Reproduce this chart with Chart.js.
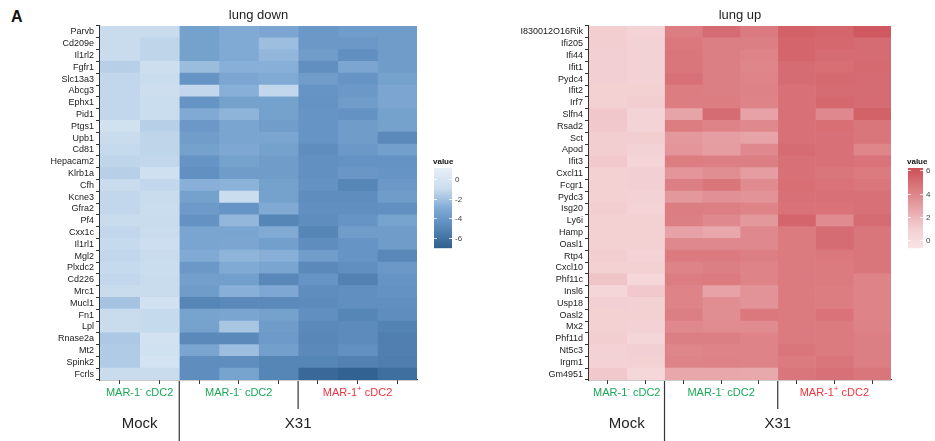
<!DOCTYPE html>
<html>
<head>
<meta charset="utf-8">
<script src="https://cdn.jsdelivr.net/npm/chart.js@4.4.1/dist/chart.umd.min.js"></script>
<style>
  body { margin: 0; background: #fff; width: 935px; height: 441px; overflow: hidden; position: relative; font-family: "Liberation Sans", Arial, sans-serif; }
  .panel { position: absolute; top: 0; height: 441px; }
  #downBox { left: 0; width: 470px; }
  #upBox { left: 470px; width: 465px; }
  #tag { position: absolute; left: 11px; top: 8px; font-weight: bold; font-size: 16px; color: #111; }
</style>
</head>
<body>
<div id="tag">A</div>
<div class="panel" id="downBox"><canvas id="downChart"></canvas></div>
<div class="panel" id="upBox"><canvas id="upChart"></canvas></div>
<script>
// genes (rows, top to bottom)
const downGenes = ['Parvb', 'Cd209e', 'Il1rl2', 'Fgfr1', 'Slc13a3', 'Abcg3', 'Ephx1', 'Pid1', 'Ptgs1', 'Upb1',
  'Cd81', 'Hepacam2', 'Klrb1a', 'Cfh', 'Kcne3', 'Gfra2', 'Pf4', 'Cxx1c', 'Il1rl1', 'Mgl2',
  'Plxdc2', 'Cd226', 'Mrc1', 'Mucl1', 'Fn1', 'Lpl', 'Rnase2a', 'Mt2', 'Spink2', 'Fcrls'];
const upGenes = ['I830012O16Rik', 'Ifi205', 'Ifi44', 'Ifit1', 'Pydc4', 'Ifit2', 'Irf7', 'Slfn4', 'Rsad2', 'Sct',
  'Apod', 'Ifit3', 'Cxcl11', 'Fcgr1', 'Pydc3', 'Isg20', 'Ly6i', 'Hamp', 'Oasl1', 'Rtp4',
  'Cxcl10', 'Phf11c', 'Insl6', 'Usp18', 'Oasl2', 'Mx2', 'Phf11d', 'Nt5c3', 'Irgm1', 'Gm4951'];

// lung down: one array per sample column (Mock x2, X31 MAR-1- x3, X31 MAR-1+ x3)
const downMock1 = [-1.0, -1.0, -1.0, -1.5, -1.2, -1.2, -1.2, -1.2, -0.5, -1.0, -1.1, -1.3, -1.5, -1.0, -1.2, -1.2, -1.0, -1.2, -1.1, -1.2, -1.1, -1.2, -1.0, -2.0, -1.0, -1.0, -1.8, -1.7, -1.7, -1.0];
const downMock2 = [-1.0, -1.3, -1.3, -0.7, -0.9, -0.7, -0.9, -0.9, -1.5, -1.3, -1.3, -1.2, -0.6, -1.2, -1.0, -0.9, -1.0, -0.9, -0.8, -1.0, -0.9, -1.0, -1.0, -0.4, -1.1, -1.1, -0.3, -0.5, -0.2, -1.0];
const downNeg1 = [-3.5, -3.5, -3.5, -2.3, -4.2, -1.2, -4.2, -3.0, -4.0, -3.7, -3.5, -4.2, -4.4, -2.8, -3.5, -3.9, -4.3, -3.3, -3.3, -3.0, -4.0, -3.6, -3.8, -5.0, -3.4, -3.5, -4.8, -3.3, -4.6, -4.6];
const downNeg2 = [-3.0, -3.0, -3.0, -2.8, -3.2, -2.8, -3.5, -2.6, -3.3, -3.3, -3.1, -3.5, -3.8, -2.7, -0.9, -4.2, -2.5, -3.3, -3.2, -2.6, -3.0, -3.6, -2.8, -4.8, -3.3, -1.9, -4.8, -2.2, -4.6, -3.4];
const downNeg3 = [-3.2, -2.2, -2.5, -2.8, -3.0, -1.2, -3.5, -3.5, -3.7, -3.3, -3.5, -3.8, -3.8, -3.5, -3.5, -3.0, -5.0, -3.0, -3.6, -2.8, -3.3, -4.9, -3.1, -4.8, -3.5, -3.8, -3.9, -3.6, -5.0, -5.0];
const downPos1 = [-4.0, -4.0, -3.8, -4.5, -3.8, -4.2, -4.3, -4.2, -4.2, -4.2, -4.6, -4.4, -4.4, -4.3, -4.6, -4.5, -4.6, -5.0, -4.6, -3.7, -4.8, -4.2, -4.6, -4.7, -4.5, -4.8, -4.9, -4.8, -5.0, -6.5];
const downPos2 = [-3.8, -4.0, -4.5, -3.2, -4.2, -4.0, -3.8, -4.3, -3.8, -3.8, -4.0, -4.3, -4.1, -5.0, -4.6, -4.5, -4.2, -3.8, -4.2, -4.2, -4.5, -5.2, -4.5, -4.5, -5.0, -4.7, -4.7, -4.4, -5.2, -6.9];
const downPos3 = [-3.8, -3.8, -3.8, -3.8, -3.5, -3.2, -3.2, -3.5, -3.5, -4.8, -3.6, -4.3, -4.2, -4.0, -3.8, -4.4, -3.4, -3.8, -3.8, -4.9, -4.0, -4.2, -4.3, -4.5, -4.6, -5.1, -5.3, -5.3, -5.4, -6.2];

// lung up
const upMock1 = [1.0, 1.0, 0.9, 0.9, 0.9, 0.8, 0.8, 1.3, 1.2, 1.0, 1.0, 1.2, 0.8, 0.8, 0.8, 1.0, 0.8, 0.8, 0.8, 1.0, 0.8, 1.4, 0.4, 0.9, 0.8, 0.8, 1.0, 0.7, 0.7, 1.2];
const upMock2 = [0.6, 0.7, 0.7, 0.7, 0.7, 0.8, 1.0, 0.6, 0.6, 1.0, 0.7, 0.5, 0.9, 0.9, 0.7, 0.6, 0.8, 0.8, 0.8, 0.6, 0.8, 0.3, 1.2, 0.8, 0.8, 0.7, 0.4, 0.9, 0.8, 0.3];
const upNeg1 = [4.3, 4.5, 4.6, 4.6, 4.8, 4.3, 4.3, 2.7, 4.3, 3.2, 3.3, 4.3, 3.3, 4.2, 3.2, 4.3, 4.2, 2.8, 3.8, 4.4, 4.0, 4.3, 4.0, 4.0, 4.2, 3.8, 4.2, 3.9, 4.0, 2.6];
const upNeg2 = [5.0, 4.2, 4.2, 4.2, 4.2, 4.2, 4.3, 5.0, 4.0, 2.9, 3.0, 4.2, 3.6, 4.6, 3.5, 4.2, 3.8, 2.6, 3.8, 4.4, 4.2, 4.4, 2.8, 3.6, 3.6, 3.7, 4.2, 4.0, 4.1, 2.6];
const upNeg3 = [4.4, 4.2, 4.0, 3.9, 4.0, 4.1, 4.0, 2.8, 3.8, 2.7, 3.8, 4.2, 3.0, 3.7, 3.4, 4.0, 3.2, 3.8, 3.8, 4.2, 4.0, 4.0, 3.4, 3.4, 4.5, 3.7, 4.0, 4.0, 4.0, 2.5];
const upPos1 = [5.5, 5.3, 5.3, 5.0, 5.0, 4.8, 4.8, 4.8, 4.8, 4.8, 5.0, 4.8, 4.8, 4.9, 4.8, 4.7, 5.3, 4.4, 4.4, 4.4, 4.4, 4.4, 4.4, 4.4, 4.4, 4.4, 4.4, 4.6, 4.4, 4.6];
const upPos2 = [5.3, 5.2, 5.0, 4.9, 5.1, 5.0, 5.2, 3.8, 4.9, 4.8, 4.8, 4.8, 4.6, 4.7, 4.8, 4.7, 3.7, 5.0, 5.0, 4.5, 4.4, 4.4, 4.3, 4.3, 4.7, 4.4, 4.4, 4.4, 4.6, 4.8];
const upPos3 = [5.8, 5.0, 5.0, 5.1, 5.0, 5.0, 5.0, 5.5, 4.6, 4.6, 3.9, 4.7, 4.4, 4.6, 4.8, 4.8, 5.0, 4.6, 4.6, 4.6, 4.6, 4.0, 4.0, 4.0, 4.0, 4.1, 4.2, 4.2, 4.2, 4.6];

const downTicks = [0, -2, -4, -6];
const upTicks = [6, 4, 2, 0];

const FONT = '"Liberation Sans", Arial, sans-serif';
Chart.defaults.font.family = FONT;
Chart.defaults.color = '#222';

// colour ramps: [value, rgb], ascending
const blueStops = [[-7, [48, 96, 143]], [-4.5, [96, 143, 192]], [-3, [128, 170, 212]], [-1, [201, 220, 238]], [1.1, [230, 239, 248]]];
const redStops = [[-0.7, [249, 228, 230]], [1, [242, 206, 209]], [4, [222, 132, 137]], [6.2, [205, 80, 88]]];

function rampColor(stops, v) {
  if (v <= stops[0][0]) return 'rgb(' + stops[0][1].join(',') + ')';
  for (let i = 1; i < stops.length; i++) {
    if (v <= stops[i][0]) {
      const a = stops[i - 1], b = stops[i];
      const t = (v - a[0]) / (b[0] - a[0]);
      const c = a[1].map((x, k) => Math.round(x + (b[1][k] - x) * t));
      return 'rgb(' + c.join(',') + ')';
    }
  }
  return 'rgb(' + stops[stops.length - 1][1].join(',') + ')';
}

function drawGroupLabel(ctx, cx, y, sign, color) {
  const big = '11px ' + FONT, small = '8px ' + FONT;
  ctx.font = big;
  const w1 = ctx.measureText('MAR-1').width, w3 = ctx.measureText(' cDC2').width;
  ctx.font = small;
  const w2 = ctx.measureText(sign).width;
  const x0 = cx - (w1 + w2 + w3) / 2;
  ctx.fillStyle = color;
  ctx.textAlign = 'left';
  ctx.textBaseline = 'middle';
  ctx.font = big;
  ctx.fillText('MAR-1', x0, y);
  ctx.font = small;
  ctx.fillText(sign, x0 + w1, y - 4);
  ctx.font = big;
  ctx.fillText(' cDC2', x0 + w1 + w2, y);
}

// group labels, separators and colour bar
const extrasPlugin = {
  id: 'extras',
  afterDraw(chart, args, opts) {
    const ctx = chart.ctx, x = chart.scales.x, area = chart.chartArea;
    const axisY = area.bottom + 1;
    ctx.save();
    ctx.strokeStyle = '#333';
    ctx.lineWidth = 1.2;
    ctx.beginPath();
    ctx.moveTo(x.getPixelForValue(2), axisY);
    ctx.lineTo(x.getPixelForValue(2), chart.height);
    ctx.moveTo(x.getPixelForValue(5), axisY);
    ctx.lineTo(x.getPixelForValue(5), axisY + 28);
    ctx.stroke();

    drawGroupLabel(ctx, x.getPixelForValue(1), area.bottom + 13, '-', '#1aa858');
    drawGroupLabel(ctx, x.getPixelForValue(3.5), area.bottom + 13, '-', '#1aa858');
    drawGroupLabel(ctx, x.getPixelForValue(6.5), area.bottom + 13, '+', '#ee3340');

    ctx.fillStyle = '#222';
    ctx.font = '15px ' + FONT;
    ctx.textAlign = 'center';
    ctx.fillText('Mock', x.getPixelForValue(1), 424);
    ctx.fillText('X31', x.getPixelForValue(5), 424);

    // colour bar
    const bx = area.right + 17, top = 168, h = 80, w = opts.barWidth;
    const [vmin, vmax] = opts.range;
    const toY = v => top + (vmax - v) / (vmax - vmin) * h;
    for (let i = 0; i < h; i++) {
      ctx.fillStyle = rampColor(opts.stops, vmax - (i + 0.5) / h * (vmax - vmin));
      ctx.fillRect(bx, top + i, w, 1.2);
    }
    ctx.strokeStyle = 'rgba(255,255,255,0.8)';
    ctx.lineWidth = 1;
    ctx.font = '8px ' + FONT;
    ctx.textAlign = 'left';
    ctx.fillStyle = '#444';
    opts.ticks.forEach(v => {
      const y = Math.round(toY(v)) + 0.5;
      ctx.beginPath();
      ctx.moveTo(bx, y); ctx.lineTo(bx + 3, y);
      ctx.moveTo(bx + w - 3, y); ctx.lineTo(bx + w, y);
      ctx.stroke();
      ctx.fillText(String(v), bx + w + 3, y);
    });
    ctx.fillStyle = '#111';
    ctx.font = 'bold 8px ' + FONT;
    ctx.fillText('value', bx - 1, 162);
    ctx.restore();
  }
};

function makeHeatmap(id, title, genes, columns, stops, ticks, range, barWidth, yWidth, padRight) {
  const datasets = columns.map(col => ({
    data: genes.map(() => 1),
    backgroundColor: col.map(v => rampColor(stops, v)),
    borderWidth: 0,
    barPercentage: 1,
    categoryPercentage: 1
  }));
  return new Chart(document.getElementById(id), {
    type: 'bar',
    data: { labels: genes, datasets: datasets },
    options: {
      indexAxis: 'y',
      responsive: true,
      maintainAspectRatio: false,
      animation: false,
      layout: { padding: { left: 0, right: padRight, top: 0, bottom: 55 } },
      plugins: {
        legend: { display: false },
        tooltip: { enabled: false },
        title: {
          display: true,
          text: title,
          fullSize: false,
          color: '#222',
          font: { size: 13, weight: 'normal' },
          padding: { top: 8, bottom: 2.4 }
        },
        extras: { stops: stops, ticks: ticks, range: range, barWidth: barWidth }
      },
      scales: {
        x: {
          type: 'linear',
          stacked: true,
          min: 0,
          max: 8,
          afterBuildTicks: s => { s.ticks = [0.5, 1.5, 2.5, 3.5, 4.5, 5.5, 6.5, 7.5].map(v => ({ value: v })); },
          afterFit: s => { s.height = 6; },
          ticks: { callback: () => '' },
          grid: { drawOnChartArea: false, tickLength: 4, color: '#333' },
          border: { color: '#333', width: 1.2 }
        },
        y: {
          stacked: true,
          afterFit: s => { s.width = yWidth; },
          ticks: { font: { size: 9 }, color: '#1a1a1a', padding: 2, autoSkip: false },
          grid: { drawOnChartArea: false, tickLength: 4, color: '#333' },
          border: { color: '#333', width: 1.2 }
        }
      }
    },
    plugins: [extrasPlugin]
  });
}

makeHeatmap('downChart', 'lung down', downGenes,
  [downMock1, downMock2, downNeg1, downNeg2, downNeg3, downPos1, downPos2, downPos3],
  blueStops, downTicks, [-7, 1.1], 18, 100, 53);

makeHeatmap('upChart', 'lung up', upGenes,
  [upMock1, upMock2, upNeg1, upNeg2, upNeg3, upPos1, upPos2, upPos3],
  redStops, upTicks, [-0.7, 6.2], 15, 119, 44);
</script>
</body>
</html>
